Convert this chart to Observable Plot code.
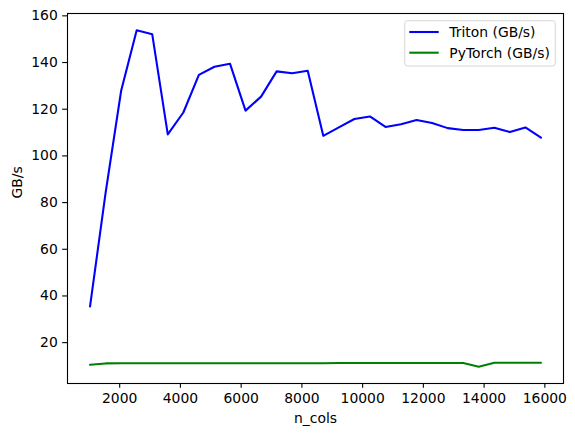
<!DOCTYPE html>
<html>
<head>
<meta charset="utf-8">
<script src="https://cdn.jsdelivr.net/npm/d3@7"></script>
<script src="https://cdn.jsdelivr.net/npm/@observablehq/plot@0.6"></script>
<style>
  html, body { margin: 0; padding: 0; background: #fff; }
  #chart { position: relative; width: 575px; height: 436px; }
</style>
</head>
<body>
<div id="chart"></div>
<script>
const nCols = [1024, 1536, 2048, 2560, 3072, 3584, 4096, 4608, 5120, 5632,
               6144, 6656, 7168, 7680, 8192, 8704, 9216, 9728, 10240, 10752,
               11264, 11776, 12288, 12800, 13312, 13824, 14336, 14848, 15360, 15872];
const tritonGBs = [35.5, 84.2, 127.9, 153.8, 152.1, 109.2, 118.6, 134.7, 138.2, 139.5,
                   119.4, 125.4, 136.2, 135.4, 136.5, 108.6, 112.2, 115.8, 116.9, 112.4,
                   113.6, 115.4, 114.1, 111.9, 111.1, 111.1, 112.1, 110.2, 112.2, 107.8];
const pytorchGBs = [10.5, 11.1, 11.2, 11.2, 11.2, 11.2, 11.2, 11.2, 11.2, 11.2,
                    11.2, 11.2, 11.2, 11.2, 11.2, 11.2, 11.3, 11.3, 11.3, 11.3,
                    11.3, 11.3, 11.3, 11.3, 11.3, 9.7, 11.4, 11.4, 11.4, 11.4];
const xTicks = [2000, 4000, 6000, 8000, 10000, 12000, 14000, 16000];
const yTicks = [20, 40, 60, 80, 100, 120, 140, 160];
const seriesNames = ["Triton (GB/s)", "PyTorch (GB/s)"];
const seriesColors = ["#0000ff", "#008000"];
const xLabel = "n_cols";
const yLabel = "GB/s";

const triton = nCols.map((n, i) => ({n, v: tritonGBs[i]}));
const pytorch = nCols.map((n, i) => ({n, v: pytorchGBs[i]}));

function pad(ext) { const d = (ext[1] - ext[0]) * 0.05; return [ext[0] - d, ext[1] + d]; }
const xDomain = pad(d3.extent(nCols));
const yDomain = pad(d3.extent([...tritonGBs, ...pytorchGBs]));

const FS = 13.9, TK = 4.86, LW = 2.08;

const plot = Plot.plot({
  width: 575,
  height: 436,
  marginLeft: 67,
  marginRight: 12,
  marginTop: 13,
  marginBottom: 53,
  style: {fontFamily: "'DejaVu Sans', sans-serif", fontSize: FS + "px", color: "#000", background: "#fff"},
  x: {domain: xDomain, ticks: xTicks, label: null},
  y: {domain: yDomain, ticks: yTicks, label: null},
  marks: [
    Plot.line(triton, {x: "n", y: "v", stroke: seriesColors[0], strokeWidth: LW, strokeLinejoin: "round"}),
    Plot.line(pytorch, {x: "n", y: "v", stroke: seriesColors[1], strokeWidth: LW, strokeLinejoin: "round"}),
    Plot.frame({stroke: "#000", strokeWidth: 1.1}),
    Plot.axisX({ticks: xTicks, tickSize: TK, tickPadding: 4.9, tickFormat: d => String(d), stroke: "#000", strokeWidth: 1.1, label: null, fontSize: FS}),
    Plot.axisY({ticks: yTicks, tickSize: TK, tickPadding: 4.9, tickFormat: d => String(d), stroke: "#000", strokeWidth: 1.1, label: null, fontSize: FS}),
    Plot.text([xLabel], {frameAnchor: "bottom", dy: 35, text: d => d, fontSize: FS, fill: "#000", lineAnchor: "middle"}),
    Plot.text([yLabel], {frameAnchor: "left", dx: -50, rotate: -90, text: d => d, fontSize: FS, fill: "#000", lineAnchor: "middle"})
  ]
});
document.getElementById("chart").appendChild(plot);

// Legend (upper right, matplotlib style)
const svg = d3.select(plot);
const lg = svg.append("g").attr("transform", "translate(404.7,20.7)");
lg.append("rect").attr("width", 150.6).attr("height", 45.3).attr("rx", 2.8)
  .attr("fill", "#fff").attr("fill-opacity", 0.8).attr("stroke", "#d6d6d6").attr("stroke-width", 1);
seriesNames.forEach((name, i) => {
  const yy = 11.3 + i * 20.7;
  lg.append("line").attr("x1", 4.6).attr("x2", 34).attr("y1", yy).attr("y2", yy)
    .attr("stroke", seriesColors[i]).attr("stroke-width", LW);
  lg.append("text").attr("x", 44.6).attr("y", yy).attr("dy", "0.35em")
    .attr("text-anchor", "start")
    .attr("font-size", FS).attr("fill", "#000").attr("font-family", "'DejaVu Sans', sans-serif").text(name);
});
</script>
</body>
</html>
